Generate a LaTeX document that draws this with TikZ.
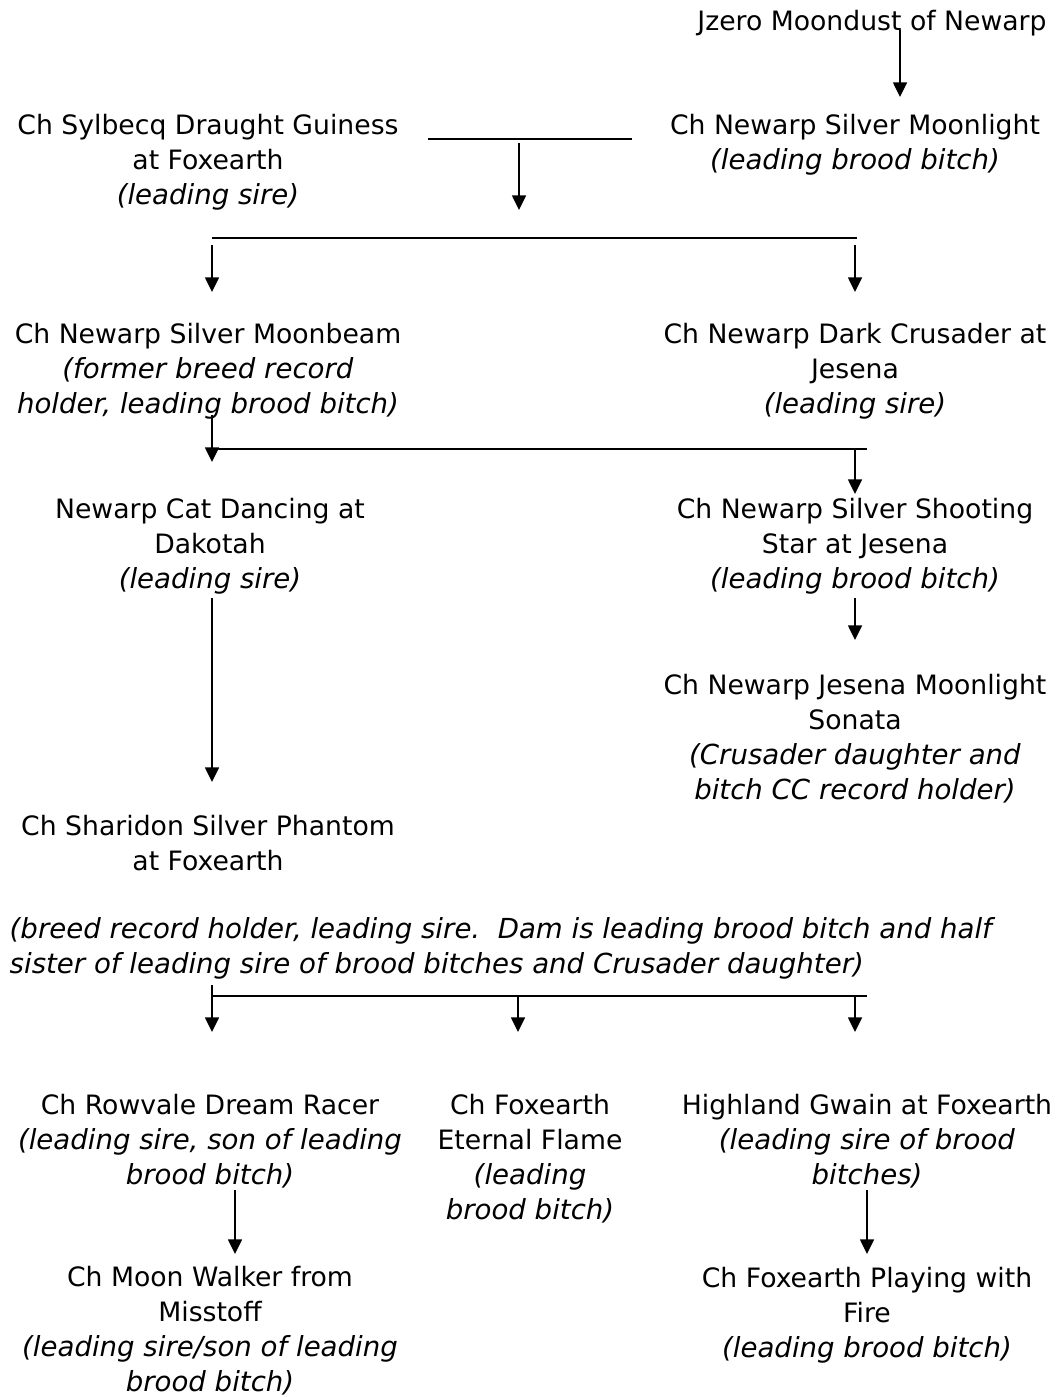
\documentclass[tikz,border=0pt]{standalone}
\usepackage{fontspec}
\setmainfont{DejaVu Sans}[ItalicFeatures={Scale=1.035}]
\usetikzlibrary{arrows.meta}

\tikzset{every picture/.style={line width=1.1pt}}
\tikzset{
  dog/.style={align=center, inner sep=0.75pt, font=\fontsize{20}{26.25}\selectfont},
  note/.style={align=left, inner sep=0.75pt, font=\fontsize{20}{26.25}\selectfont\itshape},
  descent/.style={-{Triangle[length=11pt,width=10.5pt]}},
}

\begin{document}
\begin{tikzpicture}[x=0.75pt,y=0.75pt,yscale=-1,xscale=1]
    \useasboundingbox (0,0) rectangle (1056,1397);

    % Text Node
    \node [dog] (jzero) at (872,23) {Jzero Moondust of Newarp};
    % Text Node
    \node [dog] (guiness) at (208,162) {Ch Sylbecq Draught Guiness\\at Foxearth\\\textit{(leading sire)}};
    % Text Node
    \node [dog] (moonlight) at (855,144.5) {Ch Newarp Silver Moonlight\\\textit{(leading brood bitch)}};
    % Text Node
    \node [dog] (moonbeam) at (208,371) {Ch Newarp Silver Moonbeam\\\textit{(former breed record}\\\textit{holder, leading brood bitch)}};
    % Text Node
    \node [dog] (crusader) at (855,371) {Ch Newarp Dark Crusader at\\Jesena\\\textit{(leading sire)}};
    % Text Node
    \node [dog] (catdancing) at (210,546) {Newarp Cat Dancing at\\Dakotah\\\textit{(leading sire)}};
    % Text Node
    \node [dog] (shooting) at (855,546) {Ch Newarp Silver Shooting\\Star at Jesena\\\textit{(leading brood bitch)}};
    % Text Node
    \node [dog] (sonata) at (855,738.5) {Ch Newarp Jesena Moonlight\\Sonata\\\textit{(Crusader daughter and}\\\textit{bitch CC record holder)}};
    % Text Node
    \node [dog] (phantom) at (208,843.5) {Ch Sharidon Silver Phantom\\at Foxearth};
    % Text Node
    \node [note, anchor=west] (phantomnote) at (8,948.5) {(breed record holder, leading sire.\ \ Dam is leading brood bitch and half\\sister of leading sire of brood bitches and Crusader daughter)};
    % Text Node
    \node [dog] (racer) at (210,1141) {Ch Rowvale Dream Racer\\\textit{(leading sire, son of leading}\\\textit{brood bitch)}};
    % Text Node
    \node [dog] (flame) at (530,1158.5) {Ch Foxearth\\Eternal Flame\\\textit{(leading}\\\textit{brood bitch)}};
    % Text Node
    \node [dog] (gwain) at (867,1141) {Highland Gwain at Foxearth\\\textit{(leading sire of brood}\\\textit{bitches)}};
    % Text Node
    \node [dog] (walker) at (210,1330.5) {Ch Moon Walker from\\Misstoff\\\textit{(leading sire/son of leading}\\\textit{brood bitch)}};
    % Text Node
    \node [dog] (playing) at (867,1315) {Ch Foxearth Playing with\\Fire\\\textit{(leading brood bitch)}};

    %Straight Lines: first mating
    \coordinate (jz1) at (900,30);
    \coordinate (jz2) at (900,97);
    \coordinate (m1l) at (428,139);
    \coordinate (m1r) at (632,139);
    \coordinate (m1a) at (519,143);
    \coordinate (m1b) at (519,210);
    \draw [descent] (jz1) -- (jz2);
    \draw (m1l) -- (m1r);
    \draw [descent] (m1a) -- (m1b);
    %Straight Lines: first litter
    \coordinate (l1l) at (212,238);
    \coordinate (l1r) at (857,238);
    \draw (l1l) -- (l1r);
    \draw [descent] (212,245) coordinate (l1a) -- (212,292) coordinate (l1b);
    \draw [descent] (855,245) coordinate (l1c) -- (855,292) coordinate (l1d);

    %Straight Lines: second mating
    \coordinate (l2l) at (212,449);
    \coordinate (l2r) at (867,449);
    \draw (l2l) -- (l2r);
    \draw [descent] (212,415) coordinate (l2a) -- (212,462) coordinate (l2b);
    \draw [descent] (855,449) coordinate (l2c) -- (855,494) coordinate (l2d);
    \draw [descent] (855,598) coordinate (s1) -- (855,640) coordinate (s2);
    \draw [descent] (212,598) coordinate (c1) -- (212,782) coordinate (c2);

    %Straight Lines: third litter
    \coordinate (l3l) at (212,996);
    \coordinate (l3r) at (867,996);
    \draw (l3l) -- (l3r);
    \draw [descent] (212,985) coordinate (l3a) -- (212,1032) coordinate (l3b);
    \draw [descent] (518,996) coordinate (l3c) -- (518,1032) coordinate (l3d);
    \draw [descent] (855,996) coordinate (l3e) -- (855,1032) coordinate (l3f);
    \draw [descent] (235,1190) coordinate (r1) -- (235,1254) coordinate (r2);
    \draw [descent] (867,1190) coordinate (g1) -- (867,1254) coordinate (g2);
\end{tikzpicture}
\end{document}
